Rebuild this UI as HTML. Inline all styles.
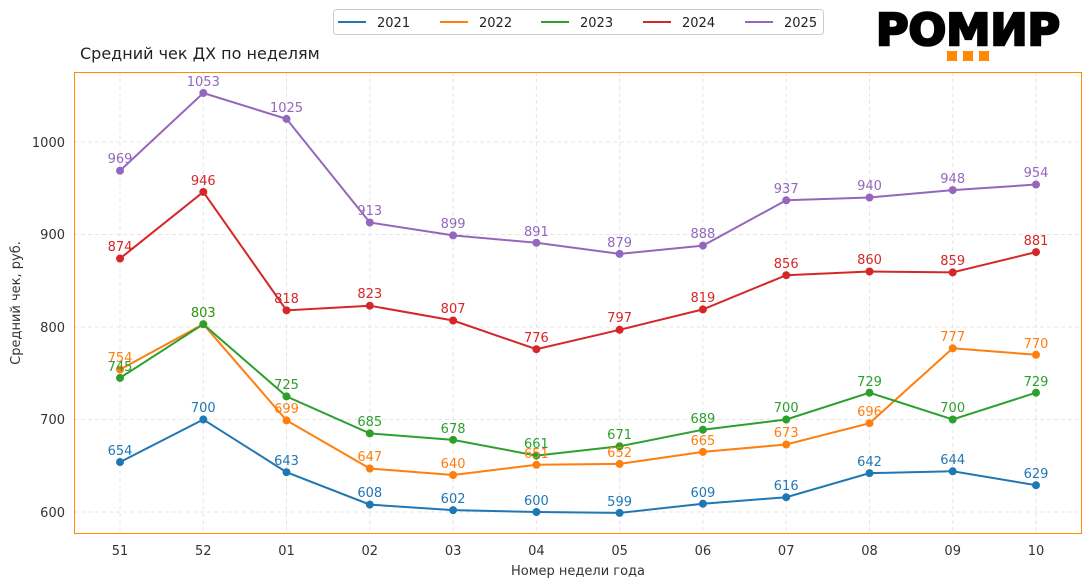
<!DOCTYPE html>
<html><head><meta charset="utf-8"><style>
html,body{margin:0;padding:0;background:#fff;}
svg{display:block;font-family:"DejaVu Sans","Liberation Sans",sans-serif;}
</style></head><body>
<svg width="1091" height="587" viewBox="0 0 1091 587" xmlns="http://www.w3.org/2000/svg">
<rect width="1091" height="587" fill="#fff"/>
<g stroke="#e6e6e6" stroke-dasharray="4,3" stroke-width="1">
<line x1="74" x2="1082" y1="512" y2="512"/><line x1="74" x2="1082" y1="419.5" y2="419.5"/>
<line x1="74" x2="1082" y1="327" y2="327"/><line x1="74" x2="1082" y1="234.5" y2="234.5"/>
<line x1="74" x2="1082" y1="142" y2="142"/>
<line x1="120" x2="120" y1="72" y2="534"/><line x1="203.3" x2="203.3" y1="72" y2="534"/>
<line x1="286.5" x2="286.5" y1="72" y2="534"/><line x1="369.8" x2="369.8" y1="72" y2="534"/>
<line x1="453.1" x2="453.1" y1="72" y2="534"/><line x1="536.4" x2="536.4" y1="72" y2="534"/>
<line x1="619.6" x2="619.6" y1="72" y2="534"/><line x1="702.9" x2="702.9" y1="72" y2="534"/>
<line x1="786.2" x2="786.2" y1="72" y2="534"/><line x1="869.5" x2="869.5" y1="72" y2="534"/>
<line x1="952.7" x2="952.7" y1="72" y2="534"/><line x1="1036" x2="1036" y1="72" y2="534"/>
</g>
<rect x="74.5" y="72.5" width="1007" height="461" fill="none" stroke="#ff8c00" stroke-width="1"/>
<g font-size="13" fill="#333" text-anchor="end">
<text x="65" y="517">600</text><text x="65" y="424">700</text><text x="65" y="332">800</text>
<text x="65" y="239">900</text><text x="65" y="147">1000</text>
</g>
<g font-size="13" fill="#333" text-anchor="middle">
<text x="120" y="555">51</text><text x="203.3" y="555">52</text><text x="286.5" y="555">01</text>
<text x="369.8" y="555">02</text><text x="453.1" y="555">03</text><text x="536.4" y="555">04</text>
<text x="619.6" y="555">05</text><text x="702.9" y="555">06</text><text x="786.2" y="555">07</text>
<text x="869.5" y="555">08</text><text x="952.7" y="555">09</text><text x="1036" y="555">10</text>
<text x="578" y="575">Номер недели года</text>
<text transform="translate(20,303) rotate(-90)">Средний чек, руб.</text>
</g>
<text x="80" y="59" font-size="16" fill="#222">Средний чек ДХ по неделям</text>

<g fill="none" stroke-width="2">
<polyline stroke="#1f77b4" points="120,462.05 203.3,419.5 286.5,472.2 369.8,504.6 453.1,510.15 536.4,512 619.6,512.9 702.9,503.7 786.2,497.2 869.5,473.15 952.7,471.3 1036,485.2"/>
<polyline stroke="#ff7f0e" points="120,369.55 203.3,324.2 286.5,420.4 369.8,468.5 453.1,475 536.4,464.8 619.6,463.9 702.9,451.9 786.2,444.5 869.5,423.2 952.7,348.3 1036,354.75"/>
<polyline stroke="#2ca02c" points="120,377.9 203.3,324.2 286.5,396.4 369.8,433.4 453.1,439.85 536.4,455.6 619.6,446.3 702.9,429.7 786.2,419.5 869.5,392.7 952.7,419.5 1036,392.7"/>
<polyline stroke="#d62728" points="120,258.55 203.3,191.95 286.5,310.35 369.8,305.7 453.1,320.5 536.4,349.2 619.6,329.8 702.9,309.4 786.2,275.2 869.5,271.5 952.7,272.4 1036,252.1"/>
<polyline stroke="#9467bd" points="120,170.7 203.3,93 286.5,118.9 369.8,222.5 453.1,235.4 536.4,242.8 619.6,253.9 702.9,245.6 786.2,200.3 869.5,197.5 952.7,190.1 1036,184.55"/>
</g>
<g fill="#1f77b4"><circle cx="120" cy="462.05" r="4"/><circle cx="203.3" cy="419.5" r="4"/><circle cx="286.5" cy="472.2" r="4"/><circle cx="369.8" cy="504.6" r="4"/><circle cx="453.1" cy="510.15" r="4"/><circle cx="536.4" cy="512" r="4"/><circle cx="619.6" cy="512.9" r="4"/><circle cx="702.9" cy="503.7" r="4"/><circle cx="786.2" cy="497.2" r="4"/><circle cx="869.5" cy="473.15" r="4"/><circle cx="952.7" cy="471.3" r="4"/><circle cx="1036" cy="485.2" r="4"/></g>
<g fill="#ff7f0e"><circle cx="120" cy="369.55" r="4"/><circle cx="203.3" cy="324.2" r="4"/><circle cx="286.5" cy="420.4" r="4"/><circle cx="369.8" cy="468.5" r="4"/><circle cx="453.1" cy="475" r="4"/><circle cx="536.4" cy="464.8" r="4"/><circle cx="619.6" cy="463.9" r="4"/><circle cx="702.9" cy="451.9" r="4"/><circle cx="786.2" cy="444.5" r="4"/><circle cx="869.5" cy="423.2" r="4"/><circle cx="952.7" cy="348.3" r="4"/><circle cx="1036" cy="354.75" r="4"/></g>
<g fill="#2ca02c"><circle cx="120" cy="377.9" r="4"/><circle cx="203.3" cy="324.2" r="4"/><circle cx="286.5" cy="396.4" r="4"/><circle cx="369.8" cy="433.4" r="4"/><circle cx="453.1" cy="439.85" r="4"/><circle cx="536.4" cy="455.6" r="4"/><circle cx="619.6" cy="446.3" r="4"/><circle cx="702.9" cy="429.7" r="4"/><circle cx="786.2" cy="419.5" r="4"/><circle cx="869.5" cy="392.7" r="4"/><circle cx="952.7" cy="419.5" r="4"/><circle cx="1036" cy="392.7" r="4"/></g>
<g fill="#d62728"><circle cx="120" cy="258.55" r="4"/><circle cx="203.3" cy="191.95" r="4"/><circle cx="286.5" cy="310.35" r="4"/><circle cx="369.8" cy="305.7" r="4"/><circle cx="453.1" cy="320.5" r="4"/><circle cx="536.4" cy="349.2" r="4"/><circle cx="619.6" cy="329.8" r="4"/><circle cx="702.9" cy="309.4" r="4"/><circle cx="786.2" cy="275.2" r="4"/><circle cx="869.5" cy="271.5" r="4"/><circle cx="952.7" cy="272.4" r="4"/><circle cx="1036" cy="252.1" r="4"/></g>
<g fill="#9467bd"><circle cx="120" cy="170.7" r="4"/><circle cx="203.3" cy="93" r="4"/><circle cx="286.5" cy="118.9" r="4"/><circle cx="369.8" cy="222.5" r="4"/><circle cx="453.1" cy="235.4" r="4"/><circle cx="536.4" cy="242.8" r="4"/><circle cx="619.6" cy="253.9" r="4"/><circle cx="702.9" cy="245.6" r="4"/><circle cx="786.2" cy="200.3" r="4"/><circle cx="869.5" cy="197.5" r="4"/><circle cx="952.7" cy="190.1" r="4"/><circle cx="1036" cy="184.55" r="4"/></g>

<g font-size="13" text-anchor="middle">
<g fill="#1f77b4"><text x="120" y="455">654</text><text x="203.3" y="412">700</text><text x="286.5" y="465">643</text><text x="369.8" y="497">608</text><text x="453.1" y="503">602</text><text x="536.4" y="505">600</text><text x="619.6" y="506">599</text><text x="702.9" y="497">609</text><text x="786.2" y="490">616</text><text x="869.5" y="466">642</text><text x="952.7" y="464">644</text><text x="1036" y="478">629</text></g>
<g fill="#ff7f0e"><text x="120" y="362">754</text><text x="203.3" y="317">803</text><text x="286.5" y="413">699</text><text x="369.8" y="461">647</text><text x="453.1" y="468">640</text><text x="536.4" y="458">651</text><text x="619.6" y="457">652</text><text x="702.9" y="445">665</text><text x="786.2" y="437">673</text><text x="869.5" y="416">696</text><text x="952.7" y="341">777</text><text x="1036" y="348">770</text></g>
<g fill="#2ca02c"><text x="120" y="371">745</text><text x="203.3" y="317">803</text><text x="286.5" y="389">725</text><text x="369.8" y="426">685</text><text x="453.1" y="433">678</text><text x="536.4" y="448">661</text><text x="619.6" y="439">671</text><text x="702.9" y="423">689</text><text x="786.2" y="412">700</text><text x="869.5" y="386">729</text><text x="952.7" y="412">700</text><text x="1036" y="386">729</text></g>
<g fill="#d62728"><text x="120" y="251">874</text><text x="203.3" y="185">946</text><text x="286.5" y="303">818</text><text x="369.8" y="298">823</text><text x="453.1" y="313">807</text><text x="536.4" y="342">776</text><text x="619.6" y="322">797</text><text x="702.9" y="302">819</text><text x="786.2" y="268">856</text><text x="869.5" y="264">860</text><text x="952.7" y="265">859</text><text x="1036" y="245">881</text></g>
<g fill="#9467bd"><text x="120" y="163">969</text><text x="203.3" y="86">1053</text><text x="286.5" y="112">1025</text><text x="369.8" y="215">913</text><text x="453.1" y="228">899</text><text x="536.4" y="236">891</text><text x="619.6" y="247">879</text><text x="702.9" y="238">888</text><text x="786.2" y="193">937</text><text x="869.5" y="190">940</text><text x="952.7" y="183">948</text><text x="1036" y="177">954</text></g>
</g>

<rect x="333.5" y="9.5" width="490" height="25" rx="3" fill="#fff" stroke="#ccc"/>
<g stroke-width="2">
<line x1="338" x2="366" y1="22" y2="22" stroke="#1f77b4"/>
<line x1="440" x2="468" y1="22" y2="22" stroke="#ff7f0e"/>
<line x1="541" x2="569" y1="22" y2="22" stroke="#2ca02c"/>
<line x1="643" x2="671" y1="22" y2="22" stroke="#d62728"/>
<line x1="745" x2="773" y1="22" y2="22" stroke="#9467bd"/>
</g>
<g font-size="13" fill="#222">
<text x="377" y="27">2021</text><text x="479" y="27">2022</text><text x="580" y="27">2023</text><text x="682" y="27">2024</text><text x="784" y="27">2025</text>
</g>

<text x="968" y="45" font-size="44" font-weight="bold" text-anchor="middle" fill="#000" stroke="#000" stroke-width="2.5" textLength="184" lengthAdjust="spacingAndGlyphs" font-family="DejaVu Sans, sans-serif">РОМИР</text>
<g fill="#ff8c00"><rect x="947" y="51" width="10" height="10"/><rect x="963" y="51" width="10" height="10"/><rect x="979" y="51" width="10" height="10"/></g>
</svg>
</body></html>
